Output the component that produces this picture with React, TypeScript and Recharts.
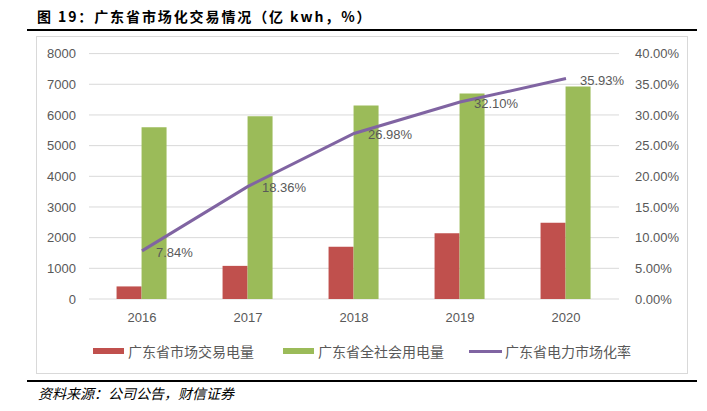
import React from 'react';
import { ComposedChart, Bar, Line, XAxis, YAxis, CartesianGrid, LabelList } from 'recharts';

const years = ['2016', '2017', '2018', '2019', '2020'];
const tradeVolume = [410, 1080, 1705, 2142, 2488];
const totalConsumption = [5600, 5958, 6305, 6700, 6926];
const marketRate = [0.0784, 0.1836, 0.2698, 0.321, 0.3593];
const leftTicks = [0, 1000, 2000, 3000, 4000, 5000, 6000, 7000, 8000];
const rightTicks = [0, 0.05, 0.1, 0.15, 0.2, 0.25, 0.3, 0.35, 0.4];
const seriesNames = ['广东省市场交易电量', '广东省全社会用电量', '广东省电力市场化率'];
const titleText = '图 19：广东省市场化交易情况（亿 kwh，%）';
const sourceText = '资料来源：公司公告，财信证券';

const data = years.map((y, i) => ({
  year: y,
  trade: tradeVolume[i],
  total: totalConsumption[i],
  rate: marketRate[i],
}));

const RED = '#C0504D';
const GREEN = '#9BBB59';
const PURPLE = '#8064A2';
const GRAY = '#595959';
const TICK_FONT = '"Liberation Sans", Arial, sans-serif';
const CJK = '"Noto Sans CJK SC", sans-serif';

const renderRateLabel = (props: any) => {
  const { x, y, value } = props;
  return (
    <text
      x={x + 14}
      y={y + 1.5}
      fill={GRAY}
      fontSize={13}
      fontFamily={TICK_FONT}
      dominantBaseline="central"
      textAnchor="start"
    >
      {(value * 100).toFixed(2) + '%'}
    </text>
  );
};

export default function App() {
  const legendItems = [
    { name: seriesNames[0], color: RED, type: 'rect', sx: 93, tx: 128 },
    { name: seriesNames[1], color: GREEN, type: 'rect', sx: 283, tx: 318 },
    { name: seriesNames[2], color: PURPLE, type: 'line', sx: 469, tx: 505 },
  ];
  return (
    <div style={{ position: 'absolute', left: 0, top: 0, width: 707, height: 411, background: '#fff', overflow: 'hidden' }}>
      <div
        style={{
          position: 'absolute',
          left: 37,
          top: 5,
          fontFamily: CJK,
          fontWeight: 700,
          fontSize: 14,
          letterSpacing: 1.9,
          color: '#000',
          lineHeight: '22px',
          whiteSpace: 'nowrap',
        }}
      >
        {titleText}
      </div>
      <div style={{ position: 'absolute', left: 27, top: 29, width: 670, height: 2, background: '#000' }} />
      <div
        style={{
          position: 'absolute',
          left: 36,
          top: 36,
          width: 652,
          height: 338,
          border: '1px solid #d9d9d9',
          boxSizing: 'border-box',
        }}
      />
      <div style={{ position: 'absolute', left: 0, top: 0 }}>
        <ComposedChart
          width={707}
          height={411}
          data={data}
          margin={{ top: 53.6, right: 18, bottom: 82, left: 29 }}
          barCategoryGap="26%"
          barGap={0}
        >
          <CartesianGrid vertical={false} stroke="#d9d9d9" strokeWidth={1} yAxisId="left" />
          <XAxis
            dataKey="year"
            axisLine={false}
            tickLine={false}
            tickSize={0}
            tickMargin={14}
            height={30}
            tick={{ fill: GRAY, fontSize: 13, fontFamily: TICK_FONT }}
          />
          <YAxis
            yAxisId="left"
            orientation="left"
            domain={[0, 8000]}
            ticks={leftTicks}
            interval={0}
            width={60}
            axisLine={false}
            tickLine={false}
            tickSize={0}
            tickMargin={13}
            tick={{ fill: GRAY, fontSize: 13, fontFamily: TICK_FONT }}
          />
          <YAxis
            yAxisId="right"
            orientation="right"
            domain={[0, 0.4]}
            ticks={rightTicks}
            interval={0}
            width={70}
            axisLine={false}
            tickLine={false}
            tickSize={0}
            tickMargin={16}
            tickFormatter={(v: number) => (v * 100).toFixed(2) + '%'}
            tick={{ fill: GRAY, fontSize: 13, fontFamily: TICK_FONT, textAnchor: 'start' }}
          />
          <Bar yAxisId="left" dataKey="trade" name={seriesNames[0]} fill={RED} isAnimationActive={false} />
          <Bar yAxisId="left" dataKey="total" name={seriesNames[1]} fill={GREEN} isAnimationActive={false} />
          <Line
            yAxisId="right"
            type="linear"
            dataKey="rate"
            name={seriesNames[2]}
            stroke={PURPLE}
            strokeWidth={3}
            dot={false}
            activeDot={false}
            isAnimationActive={false}
          >
            <LabelList dataKey="rate" content={renderRateLabel} />
          </Line>
        </ComposedChart>
      </div>
      {legendItems.map((it) => (
        <React.Fragment key={it.name}>
          <div
            style={{
              position: 'absolute',
              left: it.sx,
              top: it.type === 'rect' ? 348 : 350,
              width: it.type === 'rect' ? 31 : 33,
              height: it.type === 'rect' ? 6 : 3,
              background: it.color,
            }}
          />
          <div
            style={{
              position: 'absolute',
              left: it.tx,
              top: 341,
              fontFamily: CJK,
              fontSize: 14,
              color: GRAY,
              lineHeight: '20px',
              whiteSpace: 'nowrap',
            }}
          >
            {it.name}
          </div>
        </React.Fragment>
      ))}
      <div style={{ position: 'absolute', left: 27, top: 380, width: 670, height: 2, background: '#000' }} />
      <div
        style={{
          position: 'absolute',
          left: 38,
          top: 383,
          fontFamily: CJK,
          fontSize: 14,
          fontStyle: 'italic',
          color: '#000',
          lineHeight: '20px',
          whiteSpace: 'nowrap',
        }}
      >
        {sourceText}
      </div>
    </div>
  );
}
